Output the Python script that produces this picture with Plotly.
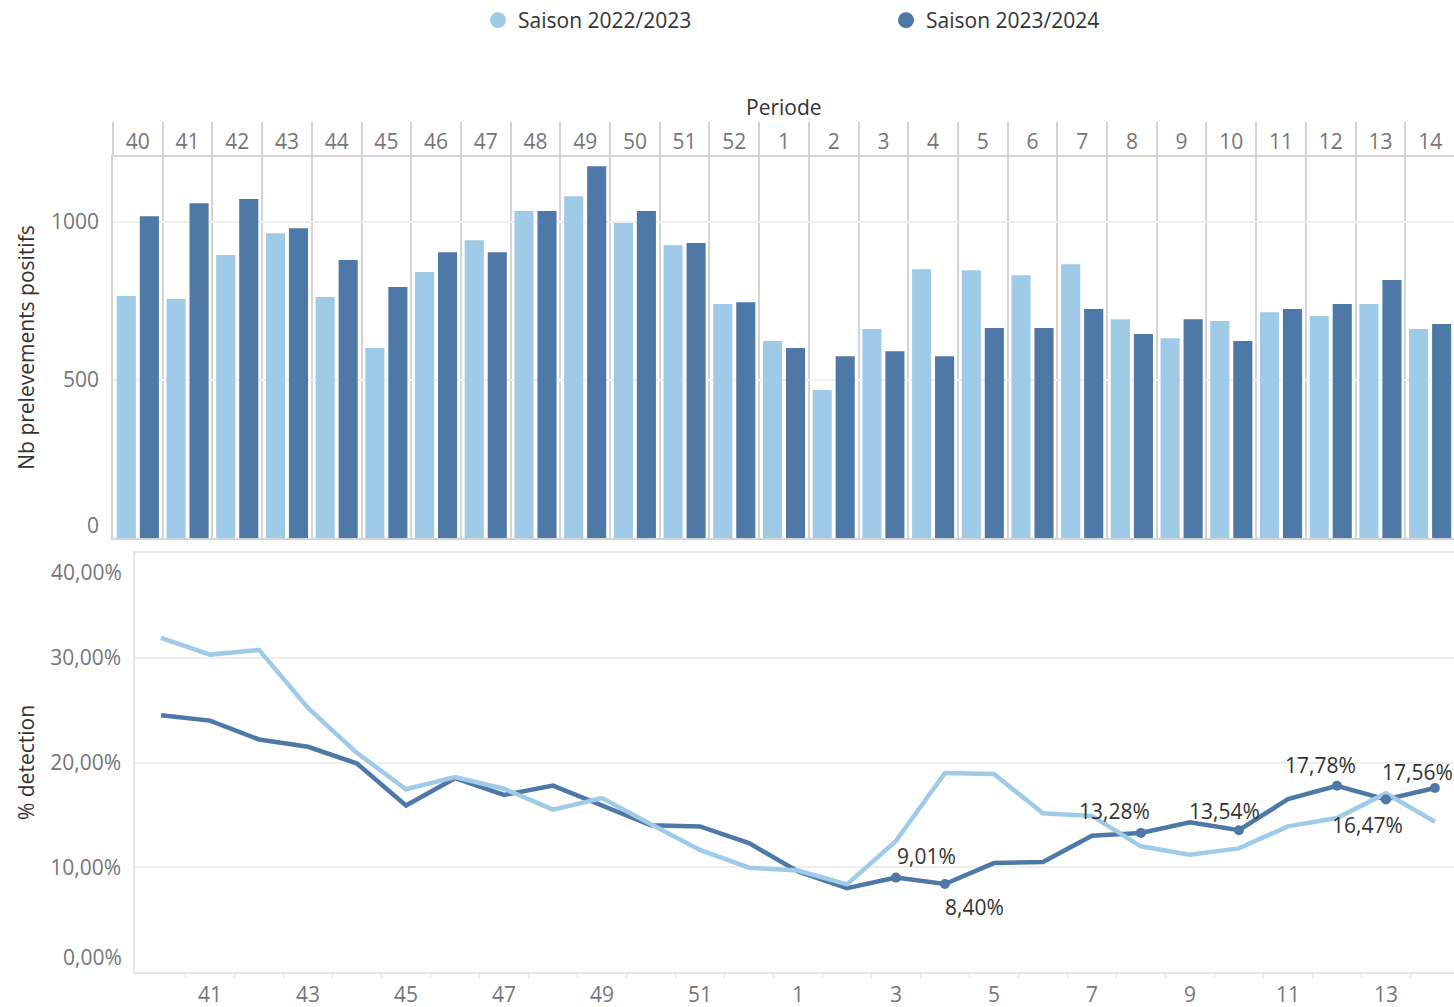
import plotly.graph_objects as go

# semaines (periode) de la saison, S40 -> S14
weeks = ['40', '41', '42', '43', '44', '45', '46', '47', '48', '49', '50', '51', '52',
         '1', '2', '3', '4', '5', '6', '7', '8', '9', '10', '11', '12', '13', '14']

# nombre de prelevements positifs
positifs_2223 = [765, 756, 895, 964, 762, 601, 841, 942, 1034, 1081, 996, 926, 740,
                 623, 468, 661, 850, 847, 831, 866, 692, 632, 686, 714, 702, 740, 661]
positifs_2324 = [1018, 1059, 1072, 980, 879, 794, 904, 904, 1034, 1176, 1034, 933, 746,
                 601, 575, 591, 575, 664, 664, 724, 645, 692, 623, 724, 740, 816, 677]

# % detection
detection_2223 = [31.9, 30.3, 30.75, 25.2, 20.9, 17.45, 18.6, 17.5, 15.5, 16.6, 14.1, 11.65, 9.96,
                  9.68, 8.37, 12.5, 19.0, 18.9, 15.15, 14.9, 12.0, 11.2, 11.8, 13.9, 14.7, 17.05, 14.35]
detection_2324 = [24.5, 24.0, 22.2, 21.5, 19.9, 15.9, 18.5, 16.9, 17.8, 15.95, 14.0, 13.9, 12.3,
                  9.6, 8.0, 9.01, 8.40, 10.4, 10.5, 13.0, 13.28, 14.3, 13.54, 16.5, 17.78, 16.47, 17.56]

# ticks des axes
count_ticks = [0, 500, 1000]
pct_ticks = [0, 10, 20, 30, 40]

# semaines etiquetees sur la courbe 2023/2024
label_weeks = ['3', '4', '8', '10', '12', '13', '14']
# decalage (px) du texte par rapport au point
label_shift = [(31, -22), (30, 23), (-26, -22), (-14, -19), (-16, -21), (-18, 26), (-17, -16)]

LIGHT = '#A0CBE8'
DARK = '#4E79A7'
W, H = 1454, 1007
FONT = 'Open Sans'
FS = 21
TICK_GREY = '#767676'
TEXT_DARK = '#333333'
SEP = '#d4d4d4'


def px_x(p):
    return p / W


def px_y(p):
    return 1 - p / H


def fmt_pct(v):
    return '{:.2f}%'.format(v).replace('.', ',')


idx = list(range(len(weeks)))
lab_idx = [weeks.index(w) for w in label_weeks]

fig = go.Figure()

# barres
fig.add_trace(go.Bar(x=weeks, y=positifs_2223, marker_color=LIGHT, marker_line_width=0,
                     showlegend=False, xaxis='x', yaxis='y'))
fig.add_trace(go.Bar(x=weeks, y=positifs_2324, marker_color=DARK, marker_line_width=0,
                     showlegend=False, xaxis='x', yaxis='y'))

# courbes
fig.add_trace(go.Scatter(x=idx, y=detection_2324, mode='lines', line=dict(color=DARK, width=4.5),
                         showlegend=False, xaxis='x2', yaxis='y2'))
fig.add_trace(go.Scatter(x=idx, y=detection_2223, mode='lines', line=dict(color=LIGHT, width=4.5),
                         showlegend=False, xaxis='x2', yaxis='y2'))
fig.add_trace(go.Scatter(x=lab_idx, y=[detection_2324[i] for i in lab_idx], mode='markers',
                         marker=dict(color=DARK, size=10), showlegend=False, xaxis='x2', yaxis='y2'))

for i, (dx, dy) in zip(lab_idx, label_shift):
    fig.add_annotation(x=i, y=detection_2324[i], xref='x2', yref='y2', text=fmt_pct(detection_2324[i]),
                       showarrow=False, xshift=dx, yshift=-dy,
                       font=dict(family=FONT, size=FS, color=TEXT_DARK))

# libelles extremes des axes y, decales vers l'interieur (comme l'original)
tick_font = dict(family=FONT, size=FS, color=TICK_GREY)
fig.add_annotation(x=px_x(113), y=count_ticks[0], xref='paper', yref='y', text=str(count_ticks[0]),
                   showarrow=False, xanchor='right', xshift=-12, yshift=13, font=tick_font)
fig.add_annotation(x=px_x(135), y=pct_ticks[0], xref='paper', yref='y2', text=fmt_pct(pct_ticks[0]),
                   showarrow=False, xanchor='right', xshift=-11, yshift=15, font=tick_font)
fig.add_annotation(x=px_x(135), y=pct_ticks[-1], xref='paper', yref='y2', text=fmt_pct(pct_ticks[-1]),
                   showarrow=False, xanchor='right', xshift=-11, yshift=-19, font=tick_font)

# titre de l'entete
fig.add_annotation(x=(px_x(113) + 1) / 2, y=px_y(107), xref='paper', yref='paper', text='Periode',
                   showarrow=False, xanchor='center', yanchor='middle',
                   font=dict(family=FONT, size=FS, color=TEXT_DARK))

# legende
fig.add_trace(go.Scatter(x=[None], y=[None], mode='markers', name='Saison 2022/2023',
                         marker=dict(color=LIGHT, size=16, symbol='circle'), xaxis='x2', yaxis='y2'))
fig.add_trace(go.Scatter(x=[None], y=[None], mode='markers', name='Saison 2023/2024',
                         marker=dict(color=DARK, size=16, symbol='circle'), xaxis='x2', yaxis='y2'))

fig.update_layout(
    width=W, height=H,
    margin=dict(l=0, r=0, t=0, b=0),
    template='none',
    paper_bgcolor='white', plot_bgcolor='white',
    font=dict(family=FONT, size=FS, color=TEXT_DARK),
    barmode='group', bargap=0.074, bargroupgap=0.17,
    legend=dict(orientation='h', x=px_x(478), y=1, xanchor='left', yanchor='top',
                entrywidth=363, font=dict(size=FS, color=TEXT_DARK), bgcolor='rgba(0,0,0,0)'),
    xaxis=dict(type='category', domain=[px_x(113), 1], range=[-0.5, 26.48], anchor='y', side='top',
               tickson='boundaries', ticks='outside', ticklen=33, tickcolor=SEP, tickwidth=1.5,
               showgrid=True, gridcolor=SEP, gridwidth=1.5,
               showline=True, linecolor=SEP, linewidth=1.5, mirror=True, zeroline=False,
               tickfont=tick_font, ticklabelstandoff=-2, automargin=False),
    yaxis=dict(domain=[px_y(538), px_y(157)], range=[0, 1205], anchor='x',
               tickmode='array', tickvals=count_ticks,
               ticktext=['' if v == count_ticks[0] else str(v) for v in count_ticks],
               ticks='', showgrid=True, gridcolor='#f0f0f0', gridwidth=1.5,
               zeroline=False, showline=True, linecolor=SEP, linewidth=1.5,
               tickfont=tick_font, ticklabelstandoff=8,
               title=dict(text='Nb prelevements positifs', standoff=11,
                          font=dict(size=FS, color=TEXT_DARK)),
               automargin=False),
    xaxis2=dict(domain=[px_x(135), 1], range=[-0.531, 26.39], anchor='y2',
                tickmode='array', tickvals=idx[1::2], ticktext=weeks[1::2], ticks='',
                minor=dict(tickmode='array', tickvals=[i + 0.5 for i in idx], ticks='outside',
                           ticklen=4, tickcolor='#dedede', showgrid=False),
                showgrid=False, zeroline=False, showline=True, linecolor='#e6e6e6', linewidth=1.5,
                mirror=True, tickfont=tick_font, ticklabelstandoff=3, automargin=False),
    yaxis2=dict(domain=[px_y(972), px_y(553)], range=[0, 40], anchor='x2',
                tickmode='array', tickvals=pct_ticks,
                ticktext=['' if v in (pct_ticks[0], pct_ticks[-1]) else fmt_pct(v) for v in pct_ticks],
                ticks='', showgrid=True, gridcolor='#eeeeee', gridwidth=1.5, zeroline=False,
                showline=True, linecolor='#e8e8e8', linewidth=1.5,
                tickfont=tick_font, ticklabelstandoff=8,
                title=dict(text='% detection', standoff=10, font=dict(size=FS, color=TEXT_DARK)),
                automargin=False),
)

fig.write_html('out.html', config={'displayModeBar': False},
               post_script="document.body.style.margin='0';")
